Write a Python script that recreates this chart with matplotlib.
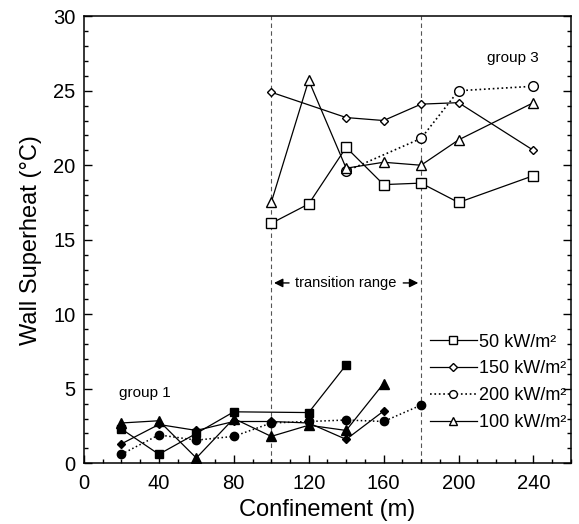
import numpy as np
import matplotlib.pyplot as plt
from matplotlib.ticker import MultipleLocator

plt.rcParams['font.family'] = ['Liberation Sans', 'DejaVu Sans']

# group 1 (filled markers)
sq1_x = [20, 40, 60, 80, 120, 140]
sq1_y = [2.3, 0.6, 2.0, 3.45, 3.4, 6.6]
tri1_x = [20, 40, 60, 80, 100, 120, 140, 160]
tri1_y = [2.7, 2.85, 0.35, 3.0, 1.8, 2.55, 2.2, 5.35]
dia1_x = [20, 40, 60, 80, 100, 120, 140, 160]
dia1_y = [1.3, 2.6, 2.2, 2.8, 2.8, 2.7, 1.6, 3.5]
cir1_x = [20, 40, 60, 80, 100, 120, 140, 160, 180]
cir1_y = [0.6, 1.9, 1.55, 1.8, 2.7, 2.8, 2.9, 2.8, 3.9]

# group 3 (open markers)
sq3_x = [100, 120, 140, 160, 180, 200, 240]
sq3_y = [16.1, 17.4, 21.2, 18.7, 18.8, 17.5, 19.3]
dia3_x = [100, 140, 160, 180, 200, 240]
dia3_y = [24.9, 23.2, 23.0, 24.1, 24.2, 21.0]
cir3_x = [140, 180, 200, 240]
cir3_y = [19.6, 21.8, 25.0, 25.3]
tri3_x = [100, 120, 140, 160, 180, 200, 240]
tri3_y = [17.5, 25.7, 19.8, 20.2, 20.0, 21.7, 24.2]

fig = plt.figure(figsize=(5.79, 5.24), dpi=100)
ax = fig.add_axes([0.145, 0.116, 0.841, 0.853])

lw = 0.9
# filled group
ax.plot(sq1_x, sq1_y, 'k-', marker='s', ms=6, mfc='k', lw=lw)
ax.plot(tri1_x, tri1_y, 'k-', marker='^', ms=6.5, mfc='k', lw=lw)
ax.plot(dia1_x, dia1_y, 'k-', marker='D', ms=4.5, mfc='k', lw=lw)
ax.plot(cir1_x, cir1_y, 'k:', marker='o', ms=6, mfc='k', lw=1.1)

# open group (legend entries)
ax.plot(sq3_x, sq3_y, 'k-', marker='s', ms=6.5, mfc='white', lw=lw, label='50 kW/m²')
ax.plot(dia3_x, dia3_y, 'k-', marker='D', ms=4.5, mfc='white', lw=lw, label='150 kW/m²')
ax.plot(cir3_x, cir3_y, 'k:', marker='o', ms=7, mfc='white', lw=1.2, label='200 kW/m²')
ax.plot(tri3_x, tri3_y, 'k-', marker='^', ms=7, mfc='white', lw=lw, label='100 kW/m²')

ax.axvline(100, color='#555555', ls=(0, (4, 3)), lw=0.8, zorder=0)
ax.axvline(180, color='#555555', ls=(0, (4, 3)), lw=0.8, zorder=0)

ax.annotate('', xy=(100, 12.1), xytext=(111, 12.1),
            arrowprops=dict(arrowstyle='-|>', color='k', lw=1, mutation_scale=13))
ax.annotate('', xy=(180, 12.1), xytext=(169, 12.1),
            arrowprops=dict(arrowstyle='-|>', color='k', lw=1, mutation_scale=13))
ax.text(140, 12.1, 'transition range', ha='center', va='center', fontsize=10.5)

ax.text(229, 27.2, 'group 3', ha='center', va='center', fontsize=11)
ax.text(32.5, 4.7, 'group 1', ha='center', va='center', fontsize=11)

ax.set_xlim(0, 260)
ax.set_ylim(0, 30)
ax.xaxis.set_major_locator(MultipleLocator(40))
ax.xaxis.set_minor_locator(MultipleLocator(10))
ax.yaxis.set_major_locator(MultipleLocator(5))
ax.yaxis.set_minor_locator(MultipleLocator(1))
ax.tick_params(which='both', direction='in', right=True, top=False, labelsize=14.5, width=1)
ax.tick_params(which='major', length=6)
ax.tick_params(which='minor', length=3)
ax.tick_params(axis='x', pad=8)
ax.tick_params(axis='y', pad=6)
for s in ax.spines.values():
    s.set_linewidth(1.1)

ax.set_xlabel('Confinement (m)', fontsize=17, labelpad=4)
ax.set_ylabel('Wall Superheat (°C)', fontsize=17, labelpad=8)

ax.legend(loc='lower right', bbox_to_anchor=(1.025, 0.035), frameon=False,
          fontsize=13, handlelength=2.6, handletextpad=0.15, labelspacing=0.55,
          markerscale=0.8)

fig.savefig('out.png', dpi=100)
